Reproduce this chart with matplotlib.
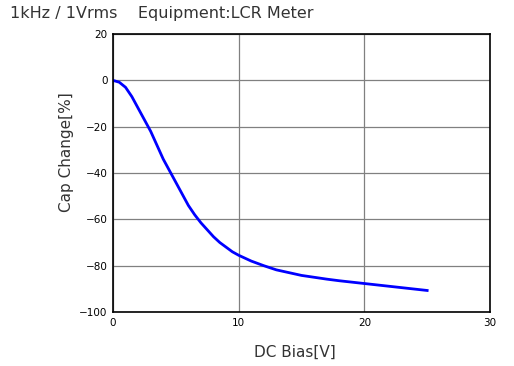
import numpy as np
import matplotlib
matplotlib.use("Agg")
import matplotlib.pyplot as plt

# DC bias characteristic
bias_v = [0, 0.5, 1, 1.5, 2, 2.5, 3, 3.5, 4, 4.5, 5, 5.5, 6, 6.5, 7, 7.5, 8, 8.5,
          9, 9.5, 10, 11, 12, 13, 14, 15, 16, 17, 18, 19, 20, 21, 22, 23, 24, 25]
cap_change = [0, -0.8, -3, -7, -12, -17, -22, -28, -34, -39, -44, -49, -54, -58,
              -61.5, -64.5, -67.5, -70, -72, -74, -75.5, -78, -80, -81.8, -83, -84.2,
              -85, -85.8, -86.5, -87.1, -87.7, -88.3, -88.9, -89.5, -90.1, -90.7]

x_ticks = [0, 10, 20, 30]
y_ticks = [-100, -80, -60, -40, -20, 0, 20]

fig = plt.figure(figsize=(5.14, 3.66), dpi=100)
ax = fig.add_axes([0.2198, 0.1475, 0.7335, 0.7595])

ax.plot(bias_v, cap_change, color="#0000ff", lw=2)

ax.set_xlim(0, 30)
ax.set_ylim(-100, 20)
ax.set_xticks(x_ticks)
ax.set_yticks(y_ticks)
ax.grid(color="#808080", lw=0.9)
ax.tick_params(length=0, labelsize=7.5, pad=4)
for s in ax.spines.values():
    s.set_color("black")
    s.set_linewidth(1.2)

# axis titles placed where they sit in the reference
fig.text(295 / 514, 1 - 352 / 366, "DC Bias[V]", fontsize=11, color="#333333",
         ha="center", va="center")
fig.text(66 / 514, 1 - 152 / 366, "Cap Change[%]", fontsize=11, color="#333333",
         ha="center", va="center", rotation=90)

fig.text(0.02, 0.962, "1kHz / 1Vrms    Equipment:LCR Meter", fontsize=11.5,
         color="#333333", va="center", ha="left")

fig.savefig("out.png", dpi=100)
